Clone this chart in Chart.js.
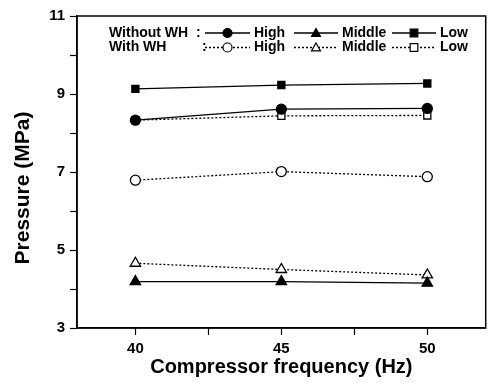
<!DOCTYPE html>
<html>
<head>
<meta charset="utf-8">
<script src="https://cdn.jsdelivr.net/npm/chart.js@4/dist/chart.umd.min.js"></script>
<style>
  html, body { margin: 0; padding: 0; background: #fff; }
  #wrap { width: 493px; height: 383px; }
</style>
</head>
<body>
<div id="wrap"><canvas id="chart"></canvas></div>
<script>
// Data
const frequencies = [40, 45, 50];
const highWithout = [8.33, 8.61, 8.63];
const middleWithout = [4.19, 4.19, 4.15];
const lowWithout = [9.13, 9.23, 9.27];
const highWith = [6.79, 7.01, 6.88];
const middleWith = [4.66, 4.50, 4.36];
const lowWith = [8.33, 8.44, 8.45];

const xTicks = [40, 42.5, 45, 47.5, 50];
const yTicks = [3, 4, 5, 6, 7, 8, 9, 10, 11];

const FONT = '"Liberation Sans", Arial, sans-serif';

function points(values) {
    return frequencies.map((f, i) => ({ x: f, y: values[i] }));
}

function series(label, values, shape, filled) {
    return {
        label: label,
        data: points(values),
        borderColor: '#000',
        borderWidth: 1.3,
        borderDash: filled ? [] : [2, 2],
        pointStyle: shape,
        pointRadius: shape === 'triangle' ? 6 : 5,
        pointBackgroundColor: filled ? '#000' : '#fff',
        pointBorderColor: '#000',
        pointBorderWidth: 1.3,
        filled: filled
    };
}

// filled series first so they sit on top
const datasets = [
    series('High', highWithout, 'circle', true),
    series('Middle', middleWithout, 'triangle', true),
    series('Low', lowWithout, 'rect', true),
    series('High', highWith, 'circle', false),
    series('Middle', middleWith, 'triangle', false),
    series('Low', lowWith, 'rect', false)
];

// Draw a small marker like the ones on the lines
function drawMarker(ctx, shape, x, y, r, filled) {
    ctx.save();
    ctx.beginPath();
    if (shape === 'circle') {
        ctx.arc(x, y, r, 0, Math.PI * 2);
    } else if (shape === 'triangle') {
        ctx.moveTo(x, y - r);
        ctx.lineTo(x + r, y + r * 0.75);
        ctx.lineTo(x - r, y + r * 0.75);
        ctx.closePath();
    } else {
        ctx.rect(x - r * 0.85, y - r * 0.85, r * 1.7, r * 1.7);
    }
    ctx.fillStyle = filled ? '#000' : '#fff';
    ctx.fill();
    ctx.setLineDash([]);
    ctx.lineWidth = 1.2;
    ctx.strokeStyle = '#000';
    ctx.stroke();
    ctx.restore();
}

const framePlugin = {
    id: 'frame',
    afterDraw(chart) {
        const ctx = chart.ctx;
        const a = chart.chartArea;
        ctx.save();
        ctx.strokeStyle = '#000';
        ctx.lineWidth = 1.5;
        ctx.strokeRect(a.left, a.top, a.right - a.left, a.bottom - a.top);

        // y axis title
        ctx.translate(23, 188);
        ctx.rotate(-Math.PI / 2);
        ctx.font = 'bold 21px ' + FONT;
        ctx.fillStyle = '#000';
        ctx.textAlign = 'center';
        ctx.textBaseline = 'middle';
        ctx.fillText('Pressure (MPa)', 0, 0);
        ctx.restore();

        // legend, two rows with a group name in front
        const rows = [
            { name: 'Without WH', colonX: 196, sets: datasets.slice(0, 3) },
            { name: 'With WH', colonX: 202, sets: datasets.slice(3, 6) }
        ];
        const segX = [[205, 250], [294, 338], [392, 436]];
        const textX = [254, 342, 440];
        ctx.save();
        ctx.font = 'bold 14px ' + FONT;
        ctx.fillStyle = '#000';
        ctx.textBaseline = 'middle';
        rows.forEach((row, r) => {
            const y = 33 + r * 14.5;
            ctx.fillText(row.name, 109, y);
            ctx.fillText(':', row.colonX, y);
            row.sets.forEach((ds, i) => {
                const x0 = segX[i][0], x1 = segX[i][1];
                ctx.save();
                ctx.beginPath();
                ctx.setLineDash(ds.borderDash);
                ctx.lineWidth = 1.3;
                ctx.strokeStyle = '#000';
                ctx.moveTo(x0, y);
                ctx.lineTo(x1, y);
                ctx.stroke();
                ctx.restore();
                drawMarker(ctx, ds.pointStyle, (x0 + x1) / 2, y, 4.5, ds.filled);
                ctx.fillText(ds.label, textX[i], y);
            });
        });
        ctx.restore();
    }
};

new Chart(document.getElementById('chart'), {
    type: 'line',
    data: { datasets: datasets },
    options: {
        responsive: true,
        maintainAspectRatio: false,
        animation: false,
        layout: { padding: { left: 0, right: 2, top: 16, bottom: 0 } },
        plugins: {
            legend: { display: false },
            tooltip: { enabled: false }
        },
        scales: {
            x: {
                type: 'linear',
                min: 38,
                max: 52,
                afterBuildTicks: scale => { scale.ticks = xTicks.map(v => ({ value: v })); },
                afterFit: scale => { scale.height = 55; },
                ticks: {
                    color: '#000',
                    padding: 5,
                    maxRotation: 0,
                    font: { family: FONT, size: 15, weight: 'bold' },
                    callback: v => (v % 5 === 0 ? v : '')
                },
                grid: {
                    drawOnChartArea: false,
                    tickLength: 7,
                    tickColor: '#000',
                    tickWidth: 1.2
                },
                border: { color: '#000', width: 1.5 },
                title: {
                    display: true,
                    text: 'Compressor frequency (Hz)',
                    color: '#000',
                    padding: { top: 0, bottom: 4 },
                    font: { family: FONT, size: 20, weight: 'bold' }
                }
            },
            y: {
                min: 3,
                max: 11,
                afterBuildTicks: scale => { scale.ticks = yTicks.map(v => ({ value: v })); },
                afterFit: scale => { scale.width = 77; },
                ticks: {
                    color: '#000',
                    padding: 5,
                    font: { family: FONT, size: 15, weight: 'bold' },
                    callback: v => (v % 2 === 1 ? v : '')
                },
                grid: {
                    drawOnChartArea: false,
                    tickLength: 7,
                    tickColor: '#000',
                    tickWidth: 1.2
                },
                border: { color: '#000', width: 1.5 }
            }
        }
    },
    plugins: [framePlugin]
});
</script>
</body>
</html>
